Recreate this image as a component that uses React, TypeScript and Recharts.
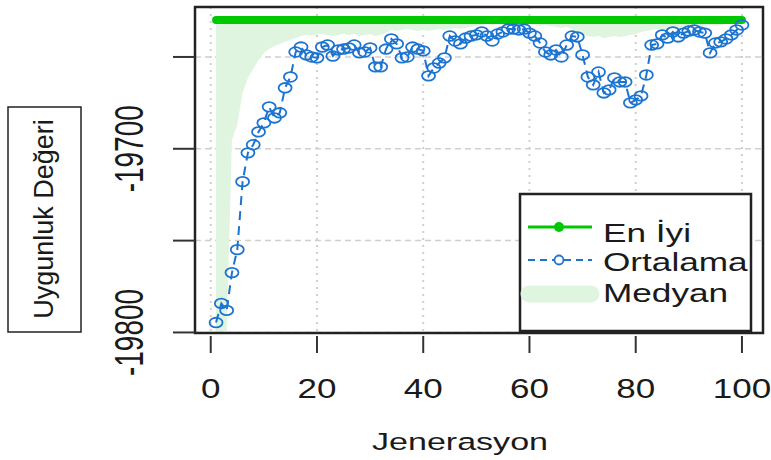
import React from 'react';
import {
  ComposedChart, Line, Area, XAxis, YAxis, CartesianGrid, ReferenceArea, Legend,
} from 'recharts';

// nesil numaralari (1..100)
const generations = [
  1, 2, 3, 4, 5, 6, 7, 8, 9, 10,
  11, 12, 13, 14, 15, 16, 17, 18, 19, 20,
  21, 22, 23, 24, 25, 26, 27, 28, 29, 30,
  31, 32, 33, 34, 35, 36, 37, 38, 39, 40,
  41, 42, 43, 44, 45, 46, 47, 48, 49, 50,
  51, 52, 53, 54, 55, 56, 57, 58, 59, 60,
  61, 62, 63, 64, 65, 66, 67, 68, 69, 70,
  71, 72, 73, 74, 75, 76, 77, 78, 79, 80,
  81, 82, 83, 84, 85, 86, 87, 88, 89, 90,
  91, 92, 93, 94, 95, 96, 97, 98, 99, 100,
];

const bestValues = [
  -19629.9, -19629.9, -19629.9, -19629.9, -19629.9, -19629.9, -19629.9, -19629.9, -19629.9, -19629.9,
  -19629.9, -19629.9, -19629.9, -19629.9, -19629.9, -19629.9, -19629.9, -19629.9, -19629.9, -19629.9,
  -19629.9, -19629.9, -19629.9, -19629.9, -19629.9, -19629.9, -19629.9, -19629.9, -19629.9, -19629.9,
  -19629.9, -19629.9, -19629.9, -19629.9, -19629.9, -19629.9, -19629.9, -19629.9, -19629.9, -19629.9,
  -19629.9, -19629.9, -19629.9, -19629.9, -19629.9, -19629.9, -19629.9, -19629.9, -19629.9, -19629.9,
  -19629.9, -19629.9, -19629.9, -19629.9, -19629.9, -19629.9, -19629.9, -19629.9, -19629.9, -19629.9,
  -19629.9, -19629.9, -19629.9, -19629.9, -19629.9, -19629.9, -19629.9, -19629.9, -19629.9, -19629.9,
  -19629.9, -19629.9, -19629.9, -19629.9, -19629.9, -19629.9, -19629.9, -19629.9, -19629.9, -19629.9,
  -19629.9, -19629.9, -19629.9, -19629.9, -19629.9, -19629.9, -19629.9, -19629.9, -19629.9, -19629.9,
  -19629.9, -19629.9, -19629.9, -19629.9, -19629.9, -19629.9, -19629.9, -19629.9, -19629.9, -19629.9,
];

const meanValues = [
  -19794.6, -19784.2, -19788.0, -19767.4, -19754.9, -19717.9, -19702.2, -19697.8, -19690.8, -19685.9,
  -19677.2, -19683.2, -19680.4, -19666.8, -19660.9, -19647.3, -19644.6, -19648.9, -19650.0, -19650.5,
  -19644.6, -19643.5, -19649.5, -19646.2, -19645.7, -19645.1, -19643.5, -19647.8, -19647.3, -19645.1,
  -19655.4, -19655.4, -19645.7, -19640.2, -19642.9, -19650.5, -19650.0, -19644.6, -19645.7, -19646.7,
  -19660.3, -19656.0, -19653.3, -19650.5, -19638.6, -19641.3, -19642.9, -19639.7, -19638.6, -19638.0,
  -19636.4, -19638.6, -19641.3, -19637.5, -19636.4, -19634.8, -19634.8, -19635.3, -19634.8, -19637.0,
  -19638.6, -19642.4, -19647.3, -19648.9, -19646.2, -19650.0, -19643.5, -19638.6, -19639.1, -19648.9,
  -19660.9, -19665.2, -19658.2, -19669.6, -19667.9, -19661.4, -19663.6, -19663.6, -19675.0, -19673.4,
  -19671.2, -19659.8, -19643.5, -19642.9, -19638.0, -19639.7, -19636.4, -19639.1, -19637.0, -19635.9,
  -19635.3, -19636.4, -19637.0, -19647.8, -19642.4, -19641.8, -19640.2, -19638.0, -19635.3, -19632.6,
];

const medianValues = [
  -19800.0, -19800.0, -19799.0, -19695.1, -19687.0, -19669.6, -19661.4, -19656.5, -19651.6, -19647.8,
  -19645.7, -19644.0, -19642.9, -19641.8, -19640.8, -19639.7, -19638.6, -19638.0, -19638.4, -19637.8,
  -19637.5, -19638.0, -19638.6, -19638.0, -19637.5, -19638.0, -19637.5, -19638.6, -19638.0, -19637.5,
  -19638.6, -19638.0, -19637.0, -19635.3, -19635.9, -19635.3, -19634.8, -19635.3, -19635.9, -19635.3,
  -19635.9, -19635.3, -19634.8, -19635.3, -19634.8, -19634.2, -19634.8, -19634.2, -19633.7, -19633.1,
  -19632.6, -19632.0, -19632.6, -19632.0, -19632.6, -19632.0, -19631.5, -19632.0, -19632.6, -19632.0,
  -19632.6, -19633.1, -19632.6, -19633.1, -19633.7, -19634.2, -19633.7, -19634.8, -19637.0, -19638.0,
  -19638.6, -19639.1, -19638.6, -19639.7, -19639.1, -19638.6, -19639.1, -19638.6, -19638.0, -19637.5,
  -19636.4, -19635.9, -19635.3, -19634.8, -19635.3, -19634.8, -19634.2, -19634.8, -19634.2, -19633.7,
  -19633.1, -19633.7, -19633.1, -19632.6, -19633.1, -19632.6, -19632.0, -19631.5, -19631.0, -19630.5,
];

const xTicks = [0, 20, 40, 60, 80, 100];
const yTicks = [-19800, -19750, -19700, -19650];
const yLabelled = [-19800, -19700];
const legendLabels = ['En İyi', 'Ortalama', 'Medyan'];

const X_DOMAIN = [-2.96, 103.96];
const Y_DOMAIN = [-19800.3, -19622.8];

const FONT = '"Liberation Sans", Arial, sans-serif';
const TEXT = '#1a1a1a';
const GREEN = '#00c800';
const BLUE = '#1c74d0';
const FILL = '#dff5df';
const SX = 1.45; // kaynak gorsel yatayda gerilmis

const PLOT_LEFT = 195;
const PLOT_BOTTOM = 333;

const data = generations.map((g, i) => ({
  gen: g,
  best: bestValues[i],
  mean: meanValues[i],
  band: [medianValues[i], bestValues[i]],
}));

function StretchText({ x, y, size, anchor = 'middle', rotate = false, sx = SX, children }: any) {
  return (
    <g transform={`translate(${x},${y}) scale(${sx},1)${rotate ? ' rotate(-90)' : ''}`}>
      <text x={0} y={0} textAnchor={anchor} fontSize={size} fontFamily={FONT} fill={TEXT}>
        {children}
      </text>
    </g>
  );
}

const XTick = ({ x, payload }: any) => (
  <g>
    <line x1={x} x2={x} y1={PLOT_BOTTOM + 3} y2={PLOT_BOTTOM + 20} stroke="#333" strokeWidth={2} />
    <StretchText x={x} y={PLOT_BOTTOM + 65} size={28} sx={1.25}>{payload.value}</StretchText>
  </g>
);

const YTick = ({ y, payload }: any) => (
  <g>
    <line x1={PLOT_LEFT - 22} x2={PLOT_LEFT} y1={y} y2={y} stroke="#333" strokeWidth={2} />
    {yLabelled.includes(payload.value) && (
      <StretchText x={143} y={y} size={28} rotate>{payload.value}</StretchText>
    )}
  </g>
);

const XTitle = () => (
  <StretchText x={460} y={450} size={23.5}>Jenerasyon</StretchText>
);

const YTitle = () => (
  <g>
    <rect x={8} y={107} width={73} height={225} fill="none" stroke="#222" strokeWidth={1.5} />
    <text
      transform="translate(53,219) rotate(-90)"
      textAnchor="middle"
      fontSize={27}
      fontFamily={FONT}
      fill={TEXT}
    >
      Uygunluk Değeri
    </text>
  </g>
);

const MeanDot = (p: any) => (
  <ellipse
    key={`m${p.index}`}
    cx={p.cx}
    cy={p.cy}
    rx={6.5}
    ry={4.8}
    fill="none"
    stroke={BLUE}
    strokeWidth={1.8}
  />
);

const LegendBox = () => (
  <svg width={233} height={139} style={{ display: 'block', overflow: 'visible' }}>
    <rect x={1} y={1} width={231} height={137} fill="white" stroke="#222" strokeWidth={2.5} />
    <line x1={9} x2={73} y1={34} y2={34} stroke={GREEN} strokeWidth={3} />
    <circle cx={40} cy={34} r={5} fill={GREEN} />
    <line x1={9} x2={73} y1={67} y2={67} stroke={BLUE} strokeWidth={2} strokeDasharray="7 5" />
    <circle cx={40} cy={67} r={4.5} fill="white" stroke={BLUE} strokeWidth={1.8} />
    <line x1={10} x2={72} y1={101} y2={101} stroke={FILL} strokeWidth={17} strokeLinecap="round" />
    {legendLabels.map((t, i) => (
      <StretchText key={t} x={84} y={[49, 78, 109][i]} size={25.5} anchor="start" sx={1.38}>
        {t}
      </StretchText>
    ))}
  </svg>
);

export default function App() {
  return (
    <div style={{ position: 'absolute', left: 0, top: 0, background: 'white' }}>
      <ComposedChart
        width={771}
        height={460}
        data={data}
        margin={{ top: 7, right: 8, left: 135, bottom: 67 }}
      >
        <CartesianGrid vertical={false} stroke="#cfcfcf" strokeWidth={1.5} strokeDasharray="6 4" />
        <CartesianGrid horizontal={false} stroke="#cfcfcf" strokeWidth={2} strokeDasharray="2 5" />
        <XAxis
          dataKey="gen"
          type="number"
          domain={X_DOMAIN}
          ticks={xTicks}
          allowDataOverflow
          axisLine={false}
          tickLine={false}
          tick={<XTick />}
          height={60}
          label={<XTitle />}
        />
        <YAxis
          type="number"
          domain={Y_DOMAIN}
          ticks={yTicks}
          allowDataOverflow
          axisLine={false}
          tickLine={false}
          tick={<YTick />}
          width={60}
          label={<YTitle />}
        />
        <Area
          type="linear"
          dataKey="band"
          name="Medyan"
          stroke="none"
          fill={FILL}
          fillOpacity={1}
          isAnimationActive={false}
        />
        <Line
          type="linear"
          dataKey="best"
          name="En İyi"
          stroke={GREEN}
          strokeWidth={8}
          strokeLinecap="round"
          dot={false}
          isAnimationActive={false}
        />
        <Line
          type="linear"
          dataKey="mean"
          name="Ortalama"
          stroke={BLUE}
          strokeWidth={2}
          strokeDasharray="9 6"
          dot={MeanDot}
          isAnimationActive={false}
        />
        <ReferenceArea
          x1={X_DOMAIN[0]}
          x2={X_DOMAIN[1]}
          y1={Y_DOMAIN[0]}
          y2={Y_DOMAIN[1]}
          fill="none"
          stroke="#222"
          strokeWidth={2.5}
          ifOverflow="visible"
        />
        <Legend
          content={<LegendBox />}
          verticalAlign="middle"
          align="center"
          wrapperStyle={{ position: 'absolute', left: 519, top: 193, width: 233, height: 139 }}
        />
      </ComposedChart>
    </div>
  );
}
